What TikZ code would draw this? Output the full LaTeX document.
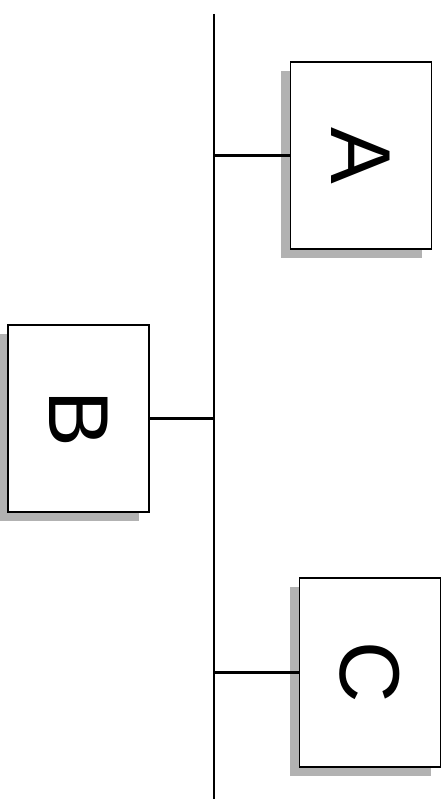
\documentclass[tikz,border=0pt]{standalone}
\usepackage{fontspec}
\setmainfont{Liberation Sans}
\usetikzlibrary{shadows}
\begin{document}
\begin{tikzpicture}[x=1pt,y=-1pt,
  unitbox/.style={draw=black, line width=1.4pt, fill=white,
    minimum width=141pt, minimum height=187pt, inner sep=0pt,
    font=\fontsize{85}{90}\selectfont,
    drop shadow={shadow xshift=-10pt, shadow yshift=-9pt, fill=black!30, opacity=1}},
  busline/.style={line width=2.6pt},
  tap/.style={line width=2.4pt}]
  \useasboundingbox (0,0) rectangle (447,799);
  % main bus
  \coordinate (bustop) at (214,14);
  \coordinate (busbot) at (214,799);
  \draw[busline] (bustop) -- (busbot);
  % units hanging off the bus
  \node[unitbox] (A) at (361,155.5) {\rotatebox{-90}{A}};
  \node[unitbox] (B) at (78.5,418.5) {\rotatebox{-90}{B}};
  \node[unitbox, minimum height=189pt] (C) at (370,672.5) {\rotatebox{-90}{C}};
  \draw[tap] (A.west) -- (A.west -| bustop);
  \draw[tap] (B.east) -- (B.east -| bustop);
  \draw[tap] (C.west) -- (C.west -| bustop);
\end{tikzpicture}
\end{document}
